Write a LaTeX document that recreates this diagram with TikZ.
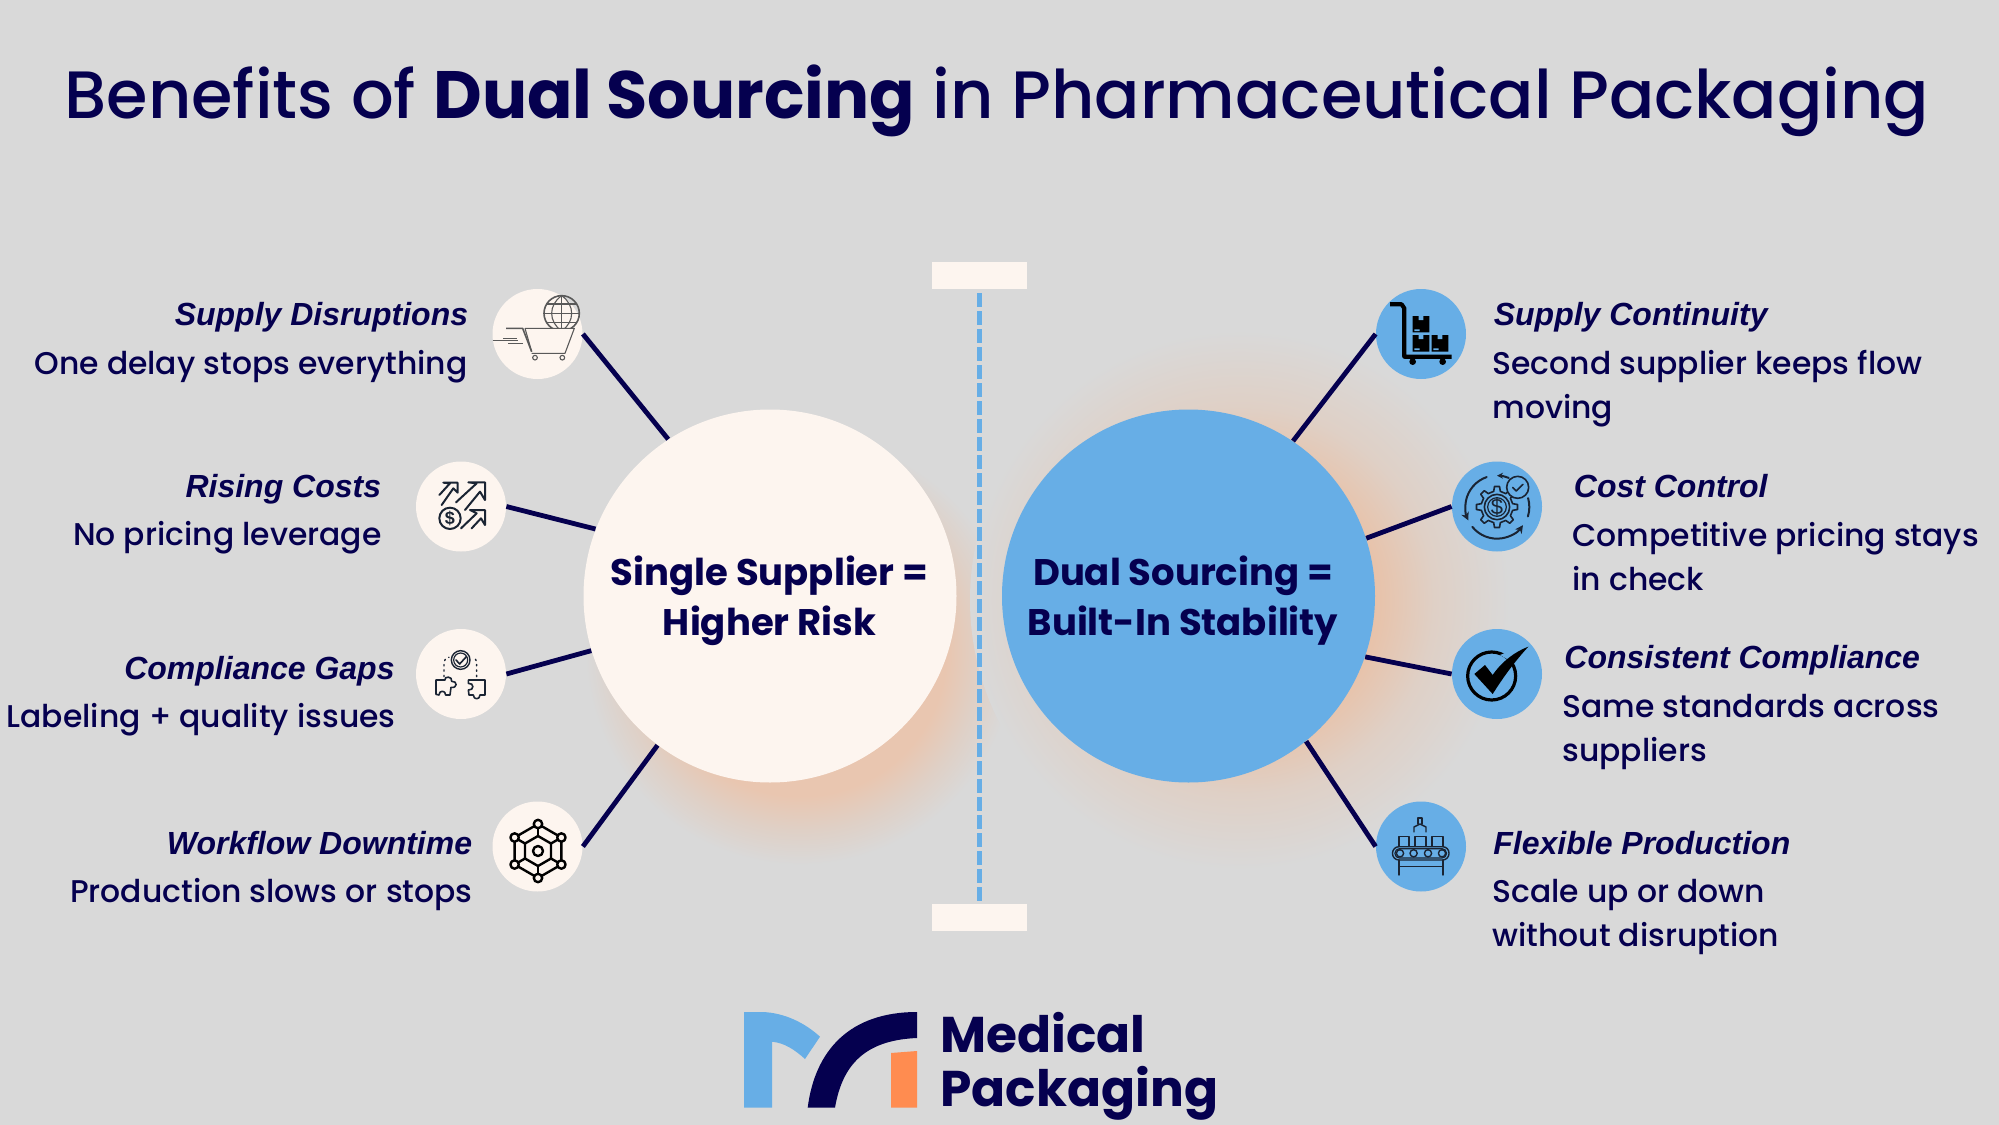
\documentclass[tikz,border=0pt]{standalone}
\usepackage{fontspec}
\setmainfont{Poppins}
\newfontfamily\medfont{Poppins Medium}
\newfontfamily\headfont{Liberation Sans}
\usetikzlibrary{arrows.meta}
\definecolor{bgc}{HTML}{D9D9D9}
\definecolor{navy}{HTML}{05004F}
\definecolor{cream}{HTML}{FDF5EF}
\definecolor{skyb}{HTML}{67AEE6}
\definecolor{orng}{HTML}{FF8C50}
\definecolor{inkd}{HTML}{1A2433}
\definecolor{glowa}{HTML}{E9C6B0}
\definecolor{glowb}{HTML}{E8C2A9}
\definecolor{glowc}{HTML}{DFD0C6}
\pgfdeclareradialshading{glowL}{\pgfpointorigin}{color(0bp)=(glowa); color(17bp)=(glowa); color(21bp)=(glowc); color(25bp)=(bgc); color(50bp)=(bgc)}
\pgfdeclareradialshading{glowR}{\pgfpointorigin}{color(0bp)=(glowb); color(12.5bp)=(glowb); color(18bp)=(glowc); color(25bp)=(bgc); color(50bp)=(bgc)}
\tikzset{
  bigcirc/.style={circle,minimum size=186.5pt,inner sep=0pt,draw=none},
  smallc/.style={circle,minimum size=45pt,inner sep=0pt,draw=none},
  conn/.style={draw=navy,line width=2.4pt},
  capbar/.style={rectangle,fill=cream,minimum width=47.5pt,minimum height=13.5pt,inner sep=0pt},
  headl/.style={text=navy,inner sep=0pt,font=\headfont\bfseries\itshape\fontsize{16}{18}\selectfont},
  bodyl/.style={text=navy,inner sep=0pt,align=left,font=\medfont\fontsize{15.7}{22}\selectfont},
  bodyr/.style={text=navy,inner sep=0pt,align=right,font=\medfont\fontsize{15.7}{22}\selectfont},
  ctext/.style={text=navy,inner sep=0pt,align=center,font=\bfseries\fontsize{18.5}{25}\selectfont},
  icg/.style={draw=black!65,line width=.55pt,line join=round},
  ick/.style={draw=inkd,line width=1pt,line join=round,line cap=round},
  icb/.style={draw=black,line width=1.2pt,line join=round}
}
\begin{document}
\begin{tikzpicture}[x=.5pt,y=-.5pt]
\useasboundingbox[fill=bgc] (0,0) rectangle (1999,1125);
% glows
\shade[shading=glowL] (800,650) circle [radius=215];
\shade[shading=glowR] (1240,600) circle [radius=270];
% title
\node[text=navy,inner sep=0pt,anchor=base,font=\medfont\fontsize{33.5}{40}\selectfont] (title) at (997,118) {Benefits of {\rmfamily\bfseries Dual Sourcing} in Pharmaceutical Packaging};
% centre divider
\node[capbar] (capT) at (979.5,275.5) {};
\node[capbar] (capB) at (979.5,917) {};
\draw[draw=skyb,line width=2.2pt,dash pattern=on 6.7pt off 2.3pt,shorten <=2pt] (capT.south) -- (capB.north);
% big circles
\node[bigcirc,fill=cream] (L) at (770,596) {};
\node[bigcirc,fill=skyb] (R) at (1188.5,596) {};
\node[ctext,anchor=base] (Lt1) at (769.5,585) {Single Supplier =};
\node[ctext,anchor=base] (Lt2) at (769.5,635) {Higher Risk};
\node[ctext,anchor=base] (Rt1) at (1183,585) {Dual Sourcing =};
\node[ctext,anchor=base] (Rt2) at (1183,635) {Built-In Stability};
% small circles
\node[smallc,fill=cream] (s1) at (537.5,334) {};
\node[smallc,fill=cream] (s2) at (461,506.5) {};
\node[smallc,fill=cream] (s3) at (461,674) {};
\node[smallc,fill=cream] (s4) at (537.5,846.5) {};
\node[smallc,fill=skyb] (t1) at (1421,334) {};
\node[smallc,fill=skyb] (t2) at (1497,506.5) {};
\node[smallc,fill=skyb] (t3) at (1497,674) {};
\node[smallc,fill=skyb] (t4) at (1421,846.5) {};
% connectors
\draw[conn] (s1.east) -- (L.123.4);
\draw[conn] (s2.east) -- (L.159);
\draw[conn] (s3.east) -- (L.197.5);
\draw[conn] (s4.east) -- (L.233.3);
\draw[conn] (t1.west) -- (R.56.4);
\draw[conn] (t2.west) -- (R.18);
\draw[conn] (t3.west) -- (R.-19);
\draw[conn] (t4.west) -- (R.-51.7);
% left labels
\node[headl,anchor=base east] (a1) at (468.5,325) {Supply Disruptions};
\node[bodyr,anchor=base east] (b1) at (468,374) {One delay stops everything};
\node[headl,anchor=base east] (a2) at (381.5,497.7) {Rising Costs};
\node[bodyr,anchor=base east] (b2) at (382,545) {No pricing leverage};
\node[headl,anchor=base east] (a3) at (395,679) {Compliance Gaps};
\node[bodyr,anchor=base east] (b3) at (396,727.7) {Labeling + quality issues};
\node[headl,anchor=base east] (a4) at (472.5,854) {Workflow Downtime};
\node[bodyr,anchor=base east] (b4) at (473,902.7) {Production slows or stops};
% right labels
\node[headl,anchor=base west] (c1) at (1493.4,325) {Supply Continuity};
\node[bodyl,anchor=base west] (d1) at (1492,418.3) {Second supplier keeps flow\\moving};
\node[headl,anchor=base west] (c2) at (1573.5,497.7) {Cost Control};
\node[bodyl,anchor=base west] (d2) at (1572,590) {Competitive pricing stays\\in check};
\node[headl,anchor=base west] (c3) at (1564,668) {Consistent Compliance};
\node[bodyl,anchor=base west] (d3) at (1562,761) {Same standards across\\suppliers};
\node[headl,anchor=base west] (c4) at (1493,854) {Flexible Production};
\node[bodyl,anchor=base west] (d4) at (1492,946.7) {Scale up or down\\without disruption};
% icon: cart + globe
\begin{scope}[shift={(480,280)},scale=1/3]
  \draw[icg,line width=.8pt] (245,100) circle (53);
  \draw[icg] (192,100) -- (298,100) (200,72) -- (290,72) (200,128) -- (290,128);
  \draw[icg] (245,47) -- (245,153);
  \draw[icg] (245,47) .. controls (205,75) and (205,125) .. (245,153);
  \draw[icg] (245,47) .. controls (285,75) and (285,125) .. (245,153);
  \draw[icg,fill=cream] (135,145) -- (283,145) -- (255,220) -- (155,220);
  \draw[icg,line width=.8pt] (78,145) -- (128,145) -- (155,215);
  \draw[icg] (135,145) -- (155,215);
  \draw[icg,line width=.8pt] (38,182) -- (115,182) (70,175) -- (110,175) (85,190) -- (130,190);
  \draw[icg] (165,233) circle (7) (247,233) circle (7);
\end{scope}
% icon: rising arrows + dollar
\begin{scope}[shift={(405,450)},scale=1/3]
  \draw[ick] (135,205) circle (32);
  \node[inner sep=0pt,text=inkd,font=\headfont\bfseries\fontsize{9}{9}\selectfont] (dol) at (135,205) {\$};
  \draw[ick] (103,135) -- (135,100) -- (115,98) -- (158,98) -- (158,128) -- (145,115) -- (110,165);
  \draw[ick] (153,157) -- (215,100) -- (190,97) -- (240,97) -- (240,150) -- (225,125) -- (180,180);
  \draw[ick] (168,235) -- (215,190) -- (195,180) -- (240,180) -- (240,225) -- (228,205) -- (200,235);
\end{scope}
% icon: compliance puzzle
\begin{scope}[shift={(405,450)},scale=1/3]
  \draw[ick,line width=.7pt] (167,630) circle (28);
  \draw[ick,line width=.6pt] (167,630) circle (21);
  \draw[ick,line width=.8pt] (153,630) -- (164,642) -- (184,620);
  \draw[ick,line width=.7pt,dotted] (117,680) -- (117,640) .. controls (117,628) and (125,623) .. (132,622);
  \draw[ick,line width=.7pt,dotted] (215,680) -- (215,640) .. controls (215,628) and (208,623) .. (202,622);
  \draw[ick,line width=.8pt] (93,733) -- (93,690) -- (120,690) .. controls (116,678) and (144,678) .. (140,694) .. controls (158,692) and (158,716) .. (138,712) -- (135,735) -- (122,735) .. controls (122,720) and (102,720) .. (102,735) -- cycle;
  \draw[ick,line width=.8pt] (240,690) -- (190,690) -- (190,700) .. controls (208,698) and (208,722) .. (190,720) -- (192,735) -- (205,735) .. controls (205,750) and (225,750) .. (225,735) -- (240,735) -- cycle;
\end{scope}
% icon: network
\begin{scope}[shift={(538,851)}]
  \draw[icb] (-90:27) -- (-30:27) -- (30:27) -- (90:27) -- (150:27) -- (210:27) -- cycle;
  \draw[icb] (-90:15) -- (-30:15) -- (30:15) -- (90:15) -- (150:15) -- (210:15) -- cycle;
  \foreach \a in {-90,-30,30,90,150,210} {
    \draw[icb] (\a:15) -- (\a:27);
    \draw[icb,fill=cream] (\a:27) circle (4.2);
  }
  \draw[icb] (0,0) circle (5);
\end{scope}
% icon: trolley with boxes
\begin{scope}[shift={(1370,280)},scale=1/3]
  \draw[draw=black,line width=2.1pt,line join=round] (60,73) -- (95,73) -- (103,85) -- (103,230) -- (245,230);
  \fill[black] (128,245) circle (10) (218,245) circle (10);
  \fill[black] (128,108) rectangle (178,157) (128,165) rectangle (178,215) (185,165) rectangle (235,215);
  \fill[skyb] (146,108) rectangle (160,120) (146,165) rectangle (160,177) (203,165) rectangle (217,177);
  \fill[skyb] (133,148) rectangle (149,153) (133,205) rectangle (149,210) (190,205) rectangle (206,210);
\end{scope}
% icon: gear with dollar
\begin{scope}[shift={(1497,507)},scale=1/3]
  \draw[ick,line width=.8pt] (-12:48) foreach \a in {0,45,...,315} { -- (\a-12:48) -- (\a-7:62) -- (\a+7:62) -- (\a+12:48) } -- cycle;
  \draw[ick,line width=.8pt] (0,0) circle (38);
  \draw[ick,line width=.6pt] (0,0) circle (28);
  \node[inner sep=0pt,text=inkd,font=\headfont\fontsize{11}{11}\selectfont] (dol2) at (0,0) {\$};
  \draw[ick,-{Stealth[length=4pt,width=4pt]}] (251:95) arc[start angle=251,end angle=155,radius=95];
  \draw[ick,-{Stealth[length=4pt,width=4pt]}] (141:95) arc[start angle=141,end angle=35,radius=95];
  \draw[ick] (-16:97) arc[start angle=-16,end angle=17,radius=97];
  \draw[ick,-{Stealth[length=3pt,width=3pt]}] (-68:94) arc[start angle=-68,end angle=-90,radius=94];
  \draw[ick,line width=.8pt,fill=skyb] (62,-59) circle (33);
  \draw[ick,line width=.8pt] (47,-59) -- (58,-48) -- (78,-68);
\end{scope}
% icon: check in ring
\begin{scope}[shift={(1440,450)},scale=1/3]
  \draw[draw=black,line width=1.6pt] (155,678) circle (72);
  \fill[skyb] (180,615) -- (245,590) -- (232,645) -- cycle;
  \fill[black] (103,672) -- (135,645) -- (158,675) .. controls (185,635) and (225,605) .. (265,590) .. controls (215,645) and (185,690) .. (158,732) -- cycle;
\end{scope}
% icon: conveyor
\begin{scope}
  \draw[ick,line width=.7pt,rounded corners=3.2pt] (1392.5,846.7) rectangle (1449,860);
  \draw[ick,line width=.6pt,rounded corners=2.2pt] (1395,848.7) rectangle (1446.5,858);
  \foreach \u in {1400,1413.6,1428,1442} { \draw[ick,line width=.7pt] (\u,853.3) circle (3.6); }
  \draw[ick,line width=.7pt] (1399,846) -- (1399,836.7) -- (1409,836.7) -- (1409,846);
  \draw[ick,line width=.7pt] (1415,846) -- (1415,836.7) -- (1426,836.7) -- (1426,846);
  \draw[ick,line width=.7pt] (1432,846) -- (1432,836.7) -- (1443,836.7) -- (1443,846);
  \draw[ick,line width=.7pt] (1399,860) -- (1399,875) (1443,860) -- (1443,875) (1399,866.7) -- (1443,866.7);
  \draw[ick,line width=.7pt] (1414,832) -- (1414,827) -- (1420,824) -- (1426,827) -- (1426,832);
  \draw[ick,line width=.7pt] (1418,824) -- (1418,818) -- (1422,818) -- (1422,824);
\end{scope}
% logo
\fill[skyb] (744,1107.7) -- (744,1012) -- (763,1012) .. controls (785,1013) and (805,1023) .. (820,1036.7) -- (805,1059) .. controls (795,1050) and (785,1043) .. (772,1041.7) -- (772,1107.7) -- cycle;
\fill[navy] (807.7,1107.7) .. controls (815,1050) and (850,1012) .. (917,1012) -- (917,1038) .. controls (870,1040) and (843,1060) .. (835,1107.7) -- cycle;
\fill[orng] (891,1107.7) -- (891,1053) -- (917,1051) -- (917,1107.7) -- cycle;
\node[text=navy,inner sep=0pt,anchor=base west,font=\bfseries\fontsize{25.1}{30}\selectfont] (m1) at (940,1052) {Medical};
\node[text=navy,inner sep=0pt,anchor=base west,font=\bfseries\fontsize{25.1}{30}\selectfont] (m2) at (940,1106.7) {Packaging};
\end{tikzpicture}
\end{document}
